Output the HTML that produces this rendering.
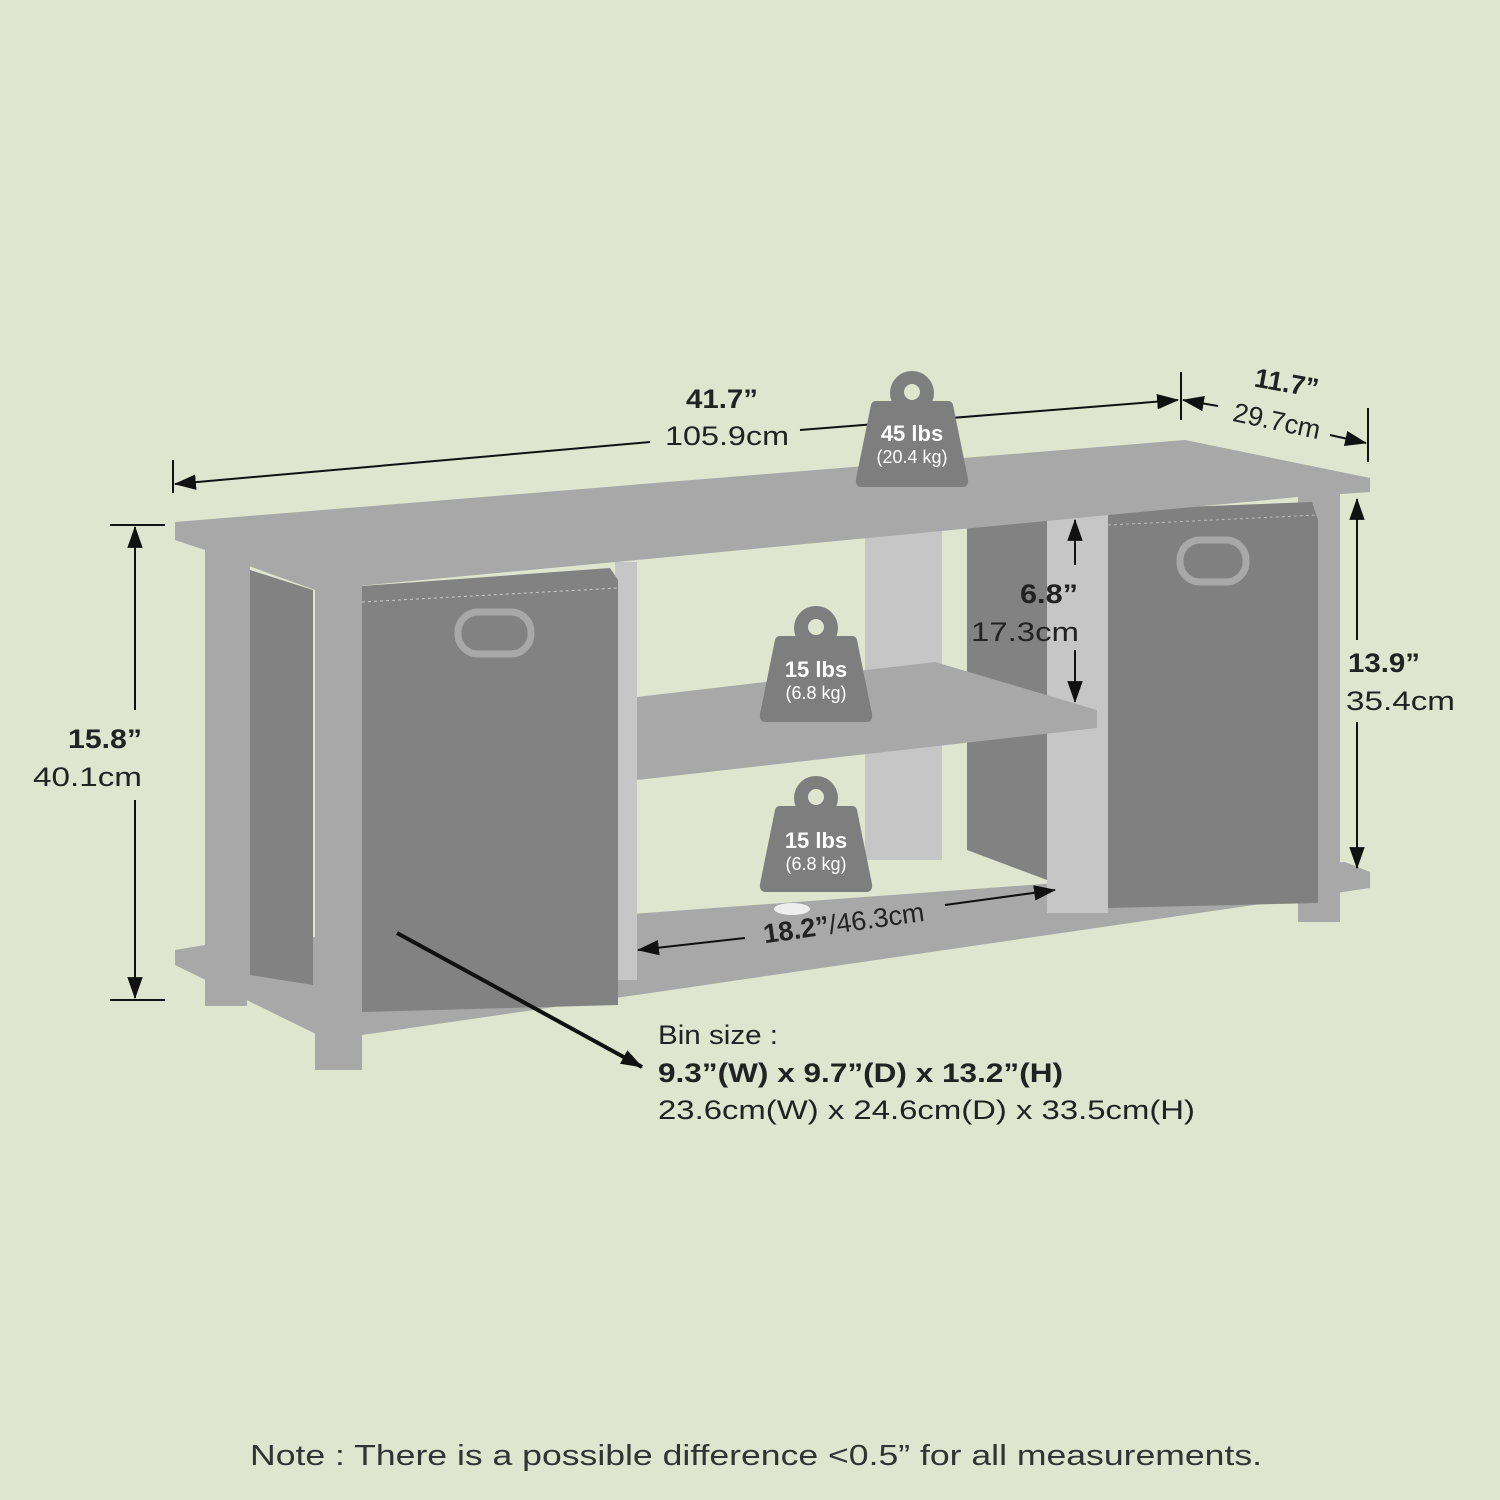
<!DOCTYPE html>
<html><head><meta charset="utf-8"><style>
html,body{margin:0;padding:0;background:#dfe5cf;}
svg{display:block}
text{font-family:"Liberation Sans",sans-serif;}
</style></head><body>
<svg width="1500" height="1500" viewBox="0 0 1500 1500" xmlns="http://www.w3.org/2000/svg">
<defs>
<marker id="b" viewBox="0 0 20 14" markerWidth="22" markerHeight="16" refX="19" refY="7" orient="auto" markerUnits="userSpaceOnUse"><path d="M0,0 L20,7 L0,14 z" fill="#111"/></marker>
<g id="w">
<circle cx="0" cy="0" r="22" fill="#7e7e7e"/>
<circle cx="0" cy="-1" r="8" fill="#dfe5cf"/>
<path d="M-36,8 Q-40,8 -41,12 L-56,86 Q-57,94 -50,94 L50,94 Q57,94 56,86 L41,12 Q40,8 36,8 Z" fill="#7e7e7e"/>
</g>
</defs>
<rect width="1500" height="1500" fill="#dfe5cf"/>

<polygon points="175,950 205,945 1345,862 1370,872 1370,888 362,1035 318,1035 175,965" fill="#a8a8a8"/>
<rect x="205" y="960" width="42" height="46" fill="#a8a8a8"/>
<rect x="315" y="1020" width="47" height="50" fill="#a8a8a8"/>
<rect x="1298" y="880" width="42" height="42" fill="#a8a8a8"/>

<rect x="865" y="530" width="77" height="330" fill="#c6c6c6"/>
<polygon points="967,525 1047,520 1047,880 967,850" fill="#828282"/>
<rect x="1047" y="515" width="61" height="398" fill="#c6c6c6"/>
<rect x="1298" y="490" width="42" height="392" fill="#a8a8a8"/>
<polygon points="1108,510 1312,502 1318,520 1318,903 1108,908" fill="#808080"/>
<path d="M1108,525 L1318,515" stroke="#bbb" stroke-dasharray="3,3" stroke-width="1"/>
<rect x="1180" y="540" width="66" height="42" rx="20" fill="none" stroke="#a8a8a8" stroke-width="7"/>

<rect x="205" y="540" width="45" height="450" fill="#a8a8a8"/>
<polygon points="250,570 313,590 313,985 250,975" fill="#828282"/>
<rect x="315" y="580" width="47" height="455" fill="#a8a8a8"/>
<rect x="615" y="562" width="22" height="418" fill="#c6c6c6"/>
<polygon points="362,586 610,568 618,580 618,1005 362,1012" fill="#828282"/>
<path d="M362,602 L618,588" stroke="#ccc" stroke-dasharray="3,3" stroke-width="1"/>
<rect x="458" y="612" width="73" height="42" rx="20" fill="none" stroke="#a8a8a8" stroke-width="7"/>

<polygon points="637,697 935,662 1097,710 1097,728 637,780" fill="#a8a8a8"/>

<polygon points="175,522 1185,440 1370,478 1370,492 1298,497 637,560 315,590 205,550 175,540" fill="#a8a8a8"/>

<g stroke="#111" stroke-width="2" fill="none">
<line x1="173" y1="460" x2="173" y2="493"/>
<line x1="1181" y1="372" x2="1181" y2="420"/>
<line x1="1368" y1="408" x2="1368" y2="462"/>
<line x1="650" y1="442" x2="175" y2="484" marker-end="url(#b)"/>
<line x1="800" y1="430" x2="1178" y2="400" marker-end="url(#b)"/>
<line x1="1218" y1="406" x2="1183" y2="400" marker-end="url(#b)"/>
<line x1="1330" y1="435" x2="1366" y2="443" marker-end="url(#b)"/>
<line x1="110" y1="525" x2="165" y2="525"/>
<line x1="110" y1="1000" x2="165" y2="1000"/>
<line x1="135" y1="710" x2="135" y2="527" marker-end="url(#b)"/>
<line x1="135" y1="800" x2="135" y2="998" marker-end="url(#b)"/>
<line x1="1357" y1="640" x2="1357" y2="499" marker-end="url(#b)"/>
<line x1="1357" y1="722" x2="1357" y2="868" marker-end="url(#b)"/>
<line x1="1075" y1="565" x2="1075" y2="520" marker-end="url(#b)"/>
<line x1="1075" y1="650" x2="1075" y2="702" marker-end="url(#b)"/>
<line x1="745" y1="938" x2="638" y2="950" marker-end="url(#b)"/>
<line x1="945" y1="905" x2="1055" y2="890" marker-end="url(#b)"/>
<line x1="397" y1="933" x2="642" y2="1067" stroke-width="4" marker-end="url(#b)"/>
</g>

<use href="#w" x="912" y="393"/>
<use href="#w" x="816" y="628"/>
<use href="#w" x="816" y="798"/>
<ellipse cx="792" cy="909" rx="18" ry="6" fill="#eee"/>
<g fill="#fff" text-anchor="middle" font-weight="bold">
<text x="912" y="441" font-size="22">45 lbs</text>
<text x="816" y="677" font-size="22">15 lbs</text>
<text x="816" y="848" font-size="22">15 lbs</text>
</g>
<g fill="#fff" text-anchor="middle">
<text x="912" y="463" font-size="18">(20.4 kg)</text>
<text x="816" y="699" font-size="18">(6.8 kg)</text>
<text x="816" y="870" font-size="18">(6.8 kg)</text>
</g>

<g fill="#222">
<text x="686" y="408" font-size="27" font-weight="bold" textLength="72" lengthAdjust="spacingAndGlyphs">41.7”</text>
<text x="665" y="445" font-size="27" textLength="124" lengthAdjust="spacingAndGlyphs">105.9cm</text>
<text x="1285" y="392" font-size="27" font-weight="bold" text-anchor="middle" transform="rotate(10 1285 392)">11.7”</text>
<text x="1275" y="430" font-size="27" text-anchor="middle" transform="rotate(12 1275 430)">29.7cm</text>
<text x="68" y="748" font-size="27" font-weight="bold" textLength="74" lengthAdjust="spacingAndGlyphs">15.8”</text>
<text x="33" y="786" font-size="27" textLength="109" lengthAdjust="spacingAndGlyphs">40.1cm</text>
<text x="1348" y="672" font-size="27" font-weight="bold" textLength="72" lengthAdjust="spacingAndGlyphs">13.9”</text>
<text x="1346" y="710" font-size="27" textLength="109" lengthAdjust="spacingAndGlyphs">35.4cm</text>
<text x="1020" y="603" font-size="27" font-weight="bold" textLength="58" lengthAdjust="spacingAndGlyphs">6.8”</text>
<text x="971" y="641" font-size="27" textLength="108" lengthAdjust="spacingAndGlyphs">17.3cm</text>
<text x="845" y="932" font-size="27" text-anchor="middle" transform="rotate(-8 845 932)"><tspan font-weight="bold">18.2”</tspan>/46.3cm</text>
<text x="658" y="1044" font-size="27" textLength="120" lengthAdjust="spacingAndGlyphs">Bin size :</text>
<text x="658" y="1082" font-size="27" font-weight="bold" textLength="405" lengthAdjust="spacingAndGlyphs">9.3”(W) x 9.7”(D) x 13.2”(H)</text>
<text x="658" y="1119" font-size="27" textLength="537" lengthAdjust="spacingAndGlyphs">23.6cm(W) x 24.6cm(D) x 33.5cm(H)</text>
<text x="250" y="1465" font-size="29" fill="#333" textLength="1012" lengthAdjust="spacingAndGlyphs">Note : There is a possible difference &lt;0.5” for all measurements.</text>
</g>
</svg>
</body></html>
